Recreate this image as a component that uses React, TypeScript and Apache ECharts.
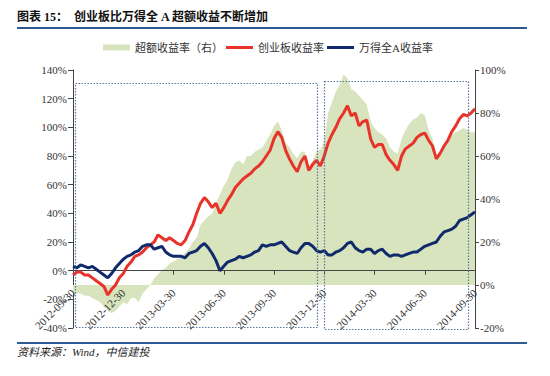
import React, { useEffect, useRef } from "react";
import * as echarts from "echarts";

const quarterLabels = [
  "2012-09-30", "2012-12-30", "2013-03-30", "2013-06-30", "2013-09-30",
  "2013-12-30", "2014-03-30", "2014-06-30", "2014-09-30",
];

// weekly observation dates (105 points, 2012-09-30 .. 2014-09-28)
const categories: string[] = Array.from({ length: 105 }, (_, i) => {
  const d = new Date(Date.UTC(2012, 8, 30) + i * 7 * 86400000);
  return d.toISOString().slice(0, 10);
});

// 创业板收益率 (%)
const gemReturn = [
  -3, -1, -1, -3, -3, -5, -7, -9, -11, -17, -13, -10, -5, -2, 3, 6, 10, 11, 13, 16,
  18, 20, 25, 23, 21, 23, 21, 19, 18, 21, 27, 32, 40, 47, 51, 48, 44, 47, 40, 44,
  49, 53, 58, 61, 64, 66, 68, 71, 73, 76, 80, 84, 92, 97, 93, 84, 78, 73, 69, 76,
  80, 70, 74, 77, 73, 80, 89, 95, 100, 106, 110, 115, 108, 110, 101, 104, 105, 92, 86, 88,
  88, 81, 77, 74, 70, 80, 85, 87, 89, 93, 95, 96, 91, 87, 78, 82, 87, 91, 97, 101,
  106, 109, 108, 110, 113,
];

// 万得全A收益率 (%)
const windAReturn = [
  3, 2, 4, 3, 2, 3, 1, -1, -3, -5, -2, 2, 5, 8, 10, 11, 13, 14, 17, 18,
  18, 15, 16, 17, 13, 11, 10, 10, 10, 9, 12, 13, 14, 17, 19, 16, 12, 7, 0, 3,
  6, 7, 8, 10, 9, 10, 11, 13, 14, 18, 17, 18, 18, 19, 20, 17, 14, 13, 12, 16,
  19, 19, 17, 14, 13, 14, 11, 11, 13, 14, 16, 19, 20, 16, 14, 13, 15, 15, 12, 14,
  15, 12, 10, 11, 11, 10, 11, 12, 13, 13, 15, 17, 18, 19, 20, 24, 27, 28, 29, 31,
  35, 36, 37, 39, 41,
];

// 超额收益率（右） (%)
const excessReturn = [
  -4, -4, -4, -5, -5, -6, -7, -8, -10, -12, -13, -12, -10, -8, -9, -6, -6, -8, -4, -2,
  0, 3, 5, 7, 8, 10, 11, 12, 13, 15, 17, 20, 22, 28, 30, 32, 33, 38, 42, 46,
  49, 54, 57, 58, 56, 60, 60, 62, 63, 64, 67, 70, 74, 76, 72, 66, 64, 61, 59, 62,
  62, 55, 58, 62, 63, 67, 80, 85, 90, 93, 98, 96, 91, 90, 88, 86, 84, 76, 73, 71,
  70, 68, 64, 62, 61, 68, 72, 75, 77, 78, 80, 79, 72, 68, 60, 62, 66, 68, 70, 71,
  72, 73, 72, 71, 71,
];

const FONT = '"Liberation Serif", "Noto Sans CJK SC", serif';
const RED = "#e8332a";
const NAVY = "#102a6b";
const GREEN = "#d7e4bd";
const BOXC = "#5a76a0";
const LINE_ICON = "path://M0,0H27V3H0Z";

export default function App() {
  const ref = useRef<HTMLDivElement>(null);
  useEffect(() => {
    if (!ref.current) return;
    const chart = echarts.init(ref.current, undefined, { renderer: "svg" });
    const axisText = { fontFamily: FONT, fontSize: 11, color: "#333" };
    chart.setOption({
      animation: false,
      backgroundColor: "#fff",
      textStyle: { fontFamily: FONT },
      grid: { left: 73, right: 75, top: 70, bottom: 48, containLabel: false, outerBoundsMode: "none" },
      legend: {
        left: 103,
        top: 42,
        padding: 0,
        itemWidth: 27,
        itemHeight: 6,
        itemGap: 3,
        symbolKeepAspect: true,
        textStyle: { fontFamily: FONT, fontSize: 11, color: "#333" },
        data: [
          { name: "超额收益率（右）", icon: "rect" },
          { name: "创业板收益率", icon: LINE_ICON },
          { name: "万得全A收益率", icon: LINE_ICON },
        ],
      },
      xAxis: {
        type: "category",
        data: categories,
        boundaryGap: false,
        z: 2,
        axisLine: { onZero: true, onZeroAxisIndex: 0, lineStyle: { color: "#444", width: 1 } },
        axisTick: { show: true, interval: 12, length: 4, lineStyle: { color: "#444" } },
        axisLabel: {
          ...axisText,
          interval: 12,
          rotate: 45,
          margin: -37,
          formatter: (_v: string, idx: number) => quarterLabels[Math.round(idx / 13)] ?? "",
        },
        splitLine: { show: false },
      },
      yAxis: [
        {
          type: "value",
          min: -40,
          max: 140,
          interval: 20,
          position: "left",
          axisLine: { show: true, onZero: false, lineStyle: { color: "#444" } },
          axisTick: { show: true, length: 5, lineStyle: { color: "#444" } },
          axisLabel: { ...axisText, margin: 6, formatter: "{value}%" },
          splitLine: { show: false },
        },
        {
          type: "value",
          min: -20,
          max: 100,
          interval: 20,
          position: "right",
          axisLine: { show: true, onZero: false, lineStyle: { color: "#444" } },
          axisTick: { show: true, length: 4, lineStyle: { color: "#444" } },
          axisLabel: { ...axisText, margin: 5, formatter: "{value}%" },
          splitLine: { show: false },
        },
      ],
      series: [
        {
          name: "超额收益率（右）",
          type: "line",
          yAxisIndex: 1,
          data: excessReturn,
          symbol: "none",
          color: GREEN,
          lineStyle: { width: 0, color: GREEN },
          areaStyle: { color: GREEN, opacity: 1 },
          z: 1,
        },
        {
          name: "创业板收益率",
          type: "line",
          yAxisIndex: 0,
          data: gemReturn,
          symbol: "none",
          color: RED,
          lineStyle: { width: 3, color: RED },
          z: 3,
        },
        {
          name: "万得全A收益率",
          type: "line",
          yAxisIndex: 0,
          data: windAReturn,
          symbol: "none",
          color: NAVY,
          lineStyle: { width: 3, color: NAVY },
          z: 4,
        },
      ],
      graphic: [
        {
          type: "text",
          left: 17,
          top: 11,
          style: {
            text: "图表 15：  创业板比万得全 A 超额收益不断增加",
            fontFamily: FONT,
            fontSize: 12,
            fontWeight: "bold",
            fill: "#111",
          },
        },
        {
          type: "line",
          shape: { x1: 17, y1: 28, x2: 527, y2: 28 },
          style: { stroke: "#2d5a92", lineWidth: 2 },
        },
        {
          type: "line",
          shape: { x1: 17, y1: 343, x2: 527, y2: 343 },
          style: { stroke: "#2d5a92", lineWidth: 2 },
        },
        {
          type: "text",
          left: 17,
          top: 346,
          style: {
            text: "资料来源：Wind，中信建投",
            fontFamily: FONT,
            fontSize: 11,
            fontStyle: "italic",
            fill: "#222",
          },
        },
        {
          type: "rect",
          shape: { x: 75.5, y: 83.5, width: 242, height: 244 },
          style: { fill: "none", stroke: BOXC, lineWidth: 1.2, lineDash: [1.5, 1.5] },
          z: 10,
        },
        {
          type: "rect",
          shape: { x: 324.5, y: 81.5, width: 144, height: 248 },
          style: { fill: "none", stroke: BOXC, lineWidth: 1.2, lineDash: [1.5, 1.5] },
          z: 10,
        },
      ],
    });
    return () => chart.dispose();
  }, []);
  return (
    <div
      ref={ref}
      style={{ position: "fixed", left: 0, top: 0, width: 550, height: 376, background: "#fff" }}
    />
  );
}
